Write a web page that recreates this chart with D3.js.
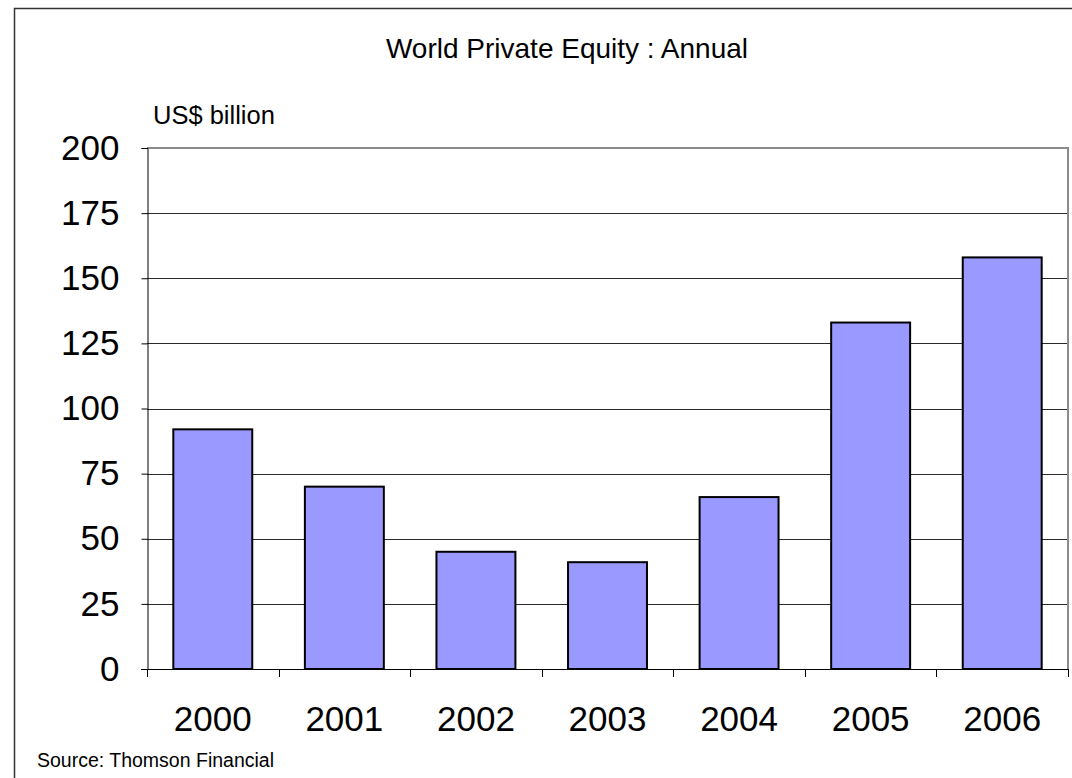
<!DOCTYPE html>
<html>
<head>
<meta charset="utf-8">
<script src="https://cdn.jsdelivr.net/npm/d3@7"></script>
<style>
  html, body { margin: 0; padding: 0; background: #fff; }
  svg { display: block; font-family: "Liberation Sans", Arial, sans-serif; }
</style>
</head>
<body>
<svg id="chart" width="1072" height="778"></svg>
<script>
const categories = ["2000", "2001", "2002", "2003", "2004", "2005", "2006"];
const values = [92, 70, 45, 41, 66, 133, 158];
const yTicks = [0, 25, 50, 75, 100, 125, 150, 175, 200];
const titleText = "World Private Equity : Annual";
const unitText = "US$ billion";
const sourceText = "Source: Thomson Financial";

const svg = d3.select("#chart");
const W = 1072, H = 778;
const plot = { left: 147, right: 1068, top: 148, bottom: 669 };

svg.append("rect").attr("width", W).attr("height", H).attr("fill", "#fff");

// outer border
svg.append("rect")
  .attr("x", 14.5).attr("y", 8.5)
  .attr("width", W + 20).attr("height", H + 20)
  .attr("fill", "none").attr("stroke", "#333").attr("stroke-width", 1.5);

const x = d3.scaleBand().domain(categories)
  .range([plot.left, plot.right])
  .paddingInner(0.4).paddingOuter(0.2);
const y = d3.scaleLinear().domain([0, 200]).range([plot.bottom, plot.top]);

// gridlines
svg.append("g").selectAll("line")
  .data(yTicks.filter(d => d > 0 && d < 200))
  .join("line")
  .attr("x1", plot.left).attr("x2", plot.right)
  .attr("y1", d => Math.round(y(d)) + 0.5).attr("y2", d => Math.round(y(d)) + 0.5)
  .attr("stroke", "#2a2a2a").attr("stroke-width", 1);

// plot frame top & right (gray)
svg.append("path")
  .attr("d", `M${plot.left},${plot.top}H${plot.right}V${plot.bottom}`)
  .attr("fill", "none").attr("stroke", "#8c8c8c").attr("stroke-width", 2);

// bars
svg.append("g").selectAll("rect")
  .data(values)
  .join("rect")
  .attr("x", (d, i) => x(categories[i]))
  .attr("y", d => y(d))
  .attr("width", x.bandwidth())
  .attr("height", d => y(0) - y(d))
  .attr("fill", "#9999ff")
  .attr("stroke", "#000").attr("stroke-width", 2);

// y axis
const yAxis = d3.axisLeft(y).tickValues(yTicks).tickSize(6).tickPadding(22)
  .tickFormat(d3.format("d"));
const gy = svg.append("g").attr("transform", `translate(${plot.left + 0.5},0)`).call(yAxis);
gy.select(".domain").attr("stroke", "#000");
gy.selectAll(".tick line").attr("stroke", "#000");
gy.selectAll(".tick text").attr("font-size", 35).attr("fill", "#000")
  .attr("font-family", "Liberation Sans, Arial, sans-serif");

// x axis: ticks at category boundaries
const boundaries = d3.range(categories.length + 1).map(i => plot.left + (plot.right - plot.left) * i / categories.length);
svg.append("line")
  .attr("x1", plot.left - 6).attr("x2", plot.right)
  .attr("y1", plot.bottom + 0.5).attr("y2", plot.bottom + 0.5)
  .attr("stroke", "#000").attr("stroke-width", 1);
svg.append("g").selectAll("line")
  .data(boundaries)
  .join("line")
  .attr("x1", d => Math.round(d) + 0.5).attr("x2", d => Math.round(d) + 0.5)
  .attr("y1", plot.bottom).attr("y2", plot.bottom + 8)
  .attr("stroke", "#000");
svg.append("g").selectAll("text")
  .data(categories)
  .join("text")
  .attr("x", d => x(d) + x.bandwidth() / 2)
  .attr("y", 731)
  .attr("text-anchor", "middle")
  .attr("font-size", 35)
  .attr("fill", "#000")
  .text(d => d);

// title
svg.append("text").attr("x", 567).attr("y", 58)
  .attr("text-anchor", "middle").attr("font-size", 28).attr("fill", "#000")
  .text(titleText);

// unit label
svg.append("text").attr("x", 153).attr("y", 124)
  .attr("font-size", 25.5).attr("fill", "#000").text(unitText);

// source
svg.append("text").attr("x", 37).attr("y", 767)
  .attr("font-size", 19.5).attr("fill", "#000").text(sourceText);
</script>
</body>
</html>
